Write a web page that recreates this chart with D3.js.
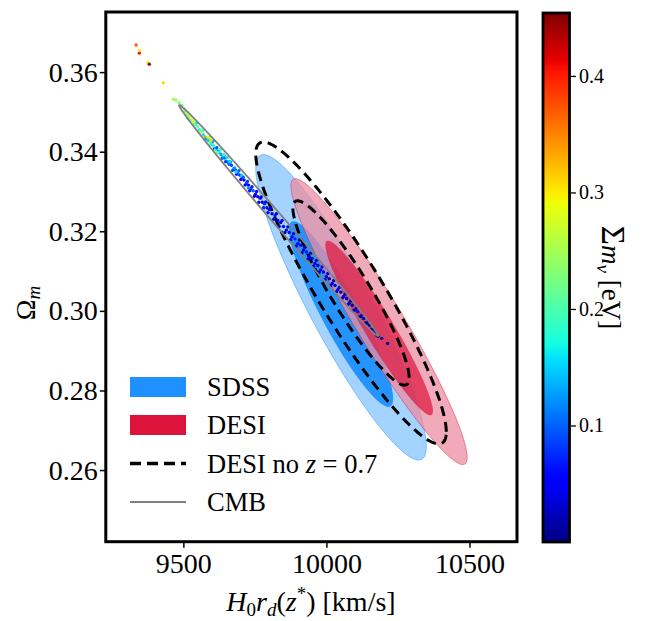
<!DOCTYPE html>
<html>
<head>
<meta charset="utf-8">
<script src="https://cdn.jsdelivr.net/npm/d3@7"></script>
<style>
body { margin: 0; background: #fff; }
svg text { font-family: "Liberation Serif", "Times New Roman", "DejaVu Serif", serif; fill: #000; }
</style>
</head>
<body>
<svg id="chart" width="647" height="621"></svg>
<script>
// Axis ranges and ticks
const xDomain = [9229, 10666];
const yDomain = [0.2420, 0.3751];
const xTicks = [9500, 10000, 10500];
const yTicks = [0.26, 0.28, 0.30, 0.32, 0.34, 0.36];
const cbDomain = [0.0, 0.454];
const cbTicks = [0.1, 0.2, 0.3, 0.4];

// Contours: [H0rd centre, Om centre, sigma H0rd, sigma Om, rho]
const sdss2 = [10051, 0.3009, 120, 0.01545, -0.91];
const sdss1 = [10051, 0.2992, 120, 0.01538, -0.91];
const desi2 = [10184, 0.2973, 124, 0.01446, -0.95];
const desi1 = [10184, 0.2957, 124, 0.01446, -0.95];
const desiNoZ07 = [10086, 0.3045, 134, 0.01527, -0.92];
const cmb = [9833, 0.3227, 140, 0.01168, -0.9975];
// delta chi^2 for 2 sigma, 1 sigma in 2D
const levels = [6.17, 2.30];

// MCMC samples: [H0rd, Om, sum m_nu]
const chain = [
  [9335, 0.3668, 0.37], [9346, 0.3648, 0.41], [9346, 0.3654, 0.30], [9376, 0.3624, 0.28],
  [9381, 0.3620, 0.44], [9430, 0.3573, 0.31], [9465, 0.3532, 0.25], [9474, 0.3530, 0.24],
  [9485, 0.3523, 0.23], [9494, 0.3517, 0.22],
  [9505, 0.3501, 0.22], [9512, 0.3494, 0.26], [9520, 0.3490, 0.20], [9528, 0.3480, 0.24],
  [9535, 0.3476, 0.28], [9542, 0.3468, 0.19], [9550, 0.3463, 0.21], [9556, 0.3455, 0.17],
  [9563, 0.3452, 0.23], [9570, 0.3443, 0.16], [9576, 0.3437, 0.34], [9582, 0.3435, 0.19],
  [9588, 0.3428, 0.15], [9594, 0.3424, 0.21], [9600, 0.3418, 0.14], [9606, 0.3415, 0.18],
  [9608, 0.3407, 0.07], [9614, 0.3408, 0.16], [9620, 0.3402, 0.13], [9626, 0.3399, 0.19],
  [9632, 0.3393, 0.12], [9638, 0.3387, 0.15], [9645, 0.3384, 0.10], [9650, 0.3377, 0.17],
  [9656, 0.3374, 0.11], [9662, 0.3368, 0.13], [9668, 0.3366, 0.09], [9675, 0.3357, 0.14],
  [9682, 0.3354, 0.08], [9690, 0.3346, 0.11], [9698, 0.3341, 0.07], [9705, 0.3334, 0.12],
  [9712, 0.3329, 0.06], [9720, 0.3320, 0.09], [9728, 0.3316, 0.05], [9736, 0.3307, 0.08],
  [9744, 0.3302, 0.10], [9752, 0.3293, 0.06], [9760, 0.3287, 0.04], [9768, 0.3283, 0.07],
  [9776, 0.3273, 0.05], [9784, 0.3269, 0.08], [9792, 0.3259, 0.04], [9800, 0.3255, 0.06],
  [9810, 0.3244, 0.03], [9820, 0.3239, 0.07], [9830, 0.3228, 0.05], [9840, 0.3222, 0.04],
  [9850, 0.3212, 0.06], [9860, 0.3203, 0.03], [9870, 0.3197, 0.05], [9880, 0.3186, 0.04],
  [9890, 0.3181, 0.07], [9900, 0.3169, 0.03], [9910, 0.3165, 0.05], [9920, 0.3153, 0.02],
  [9930, 0.3148, 0.06], [9940, 0.3136, 0.04], [9950, 0.3132, 0.03], [9960, 0.3119, 0.05],
  [9970, 0.3114, 0.02], [9980, 0.3103, 0.04], [9990, 0.3098, 0.06], [10000, 0.3086, 0.03],
  [10010, 0.3081, 0.02], [10020, 0.3069, 0.04], [10030, 0.3064, 0.03], [10040, 0.3053, 0.05],
  [10050, 0.3047, 0.02], [10060, 0.3036, 0.03], [10070, 0.3031, 0.04], [10080, 0.3019, 0.02],
  [10090, 0.3014, 0.03], [10100, 0.3003, 0.02], [10110, 0.2998, 0.04], [10120, 0.2986, 0.02],
  [10130, 0.2981, 0.03], [10140, 0.2969, 0.02], [10150, 0.2964, 0.01], [10160, 0.2952, 0.03],
  [10170, 0.2947, 0.02], [10180, 0.2936, 0.01], [10193, 0.2931, 0.02], [10214, 0.2918, 0.01],
  [9503, 0.3508, 0.25], [9516, 0.3484, 0.18], [9524, 0.3489, 0.29], [9538, 0.3469, 0.22],
  [9547, 0.3473, 0.16], [9559, 0.3449, 0.25], [9567, 0.3453, 0.20], [9579, 0.3432, 0.13],
  [9591, 0.3435, 0.24], [9597, 0.3419, 0.17], [9603, 0.3426, 0.12], [9611, 0.3404, 0.20],
  [9617, 0.3410, 0.09], [9623, 0.3398, 0.15], [9629, 0.3405, 0.18], [9635, 0.3383, 0.11],
  [9642, 0.3391, 0.14], [9648, 0.3375, 0.08], [9653, 0.3385, 0.16], [9659, 0.3369, 0.10],
  [9665, 0.3374, 0.13], [9672, 0.3353, 0.09], [9679, 0.3359, 0.12], [9686, 0.3343, 0.07],
  [9694, 0.3352, 0.10], [9701, 0.3330, 0.06], [9709, 0.3336, 0.09], [9716, 0.3316, 0.05],
  [9724, 0.3325, 0.08], [9732, 0.3302, 0.06], [9740, 0.3312, 0.07], [9748, 0.3288, 0.04],
  [9756, 0.3300, 0.06], [9764, 0.3273, 0.05], [9772, 0.3286, 0.03], [9780, 0.3259, 0.07],
  [9788, 0.3274, 0.04], [9796, 0.3247, 0.05], [9805, 0.3259, 0.03], [9815, 0.3230, 0.06],
  [9825, 0.3244, 0.04], [9835, 0.3212, 0.03], [9845, 0.3227, 0.05], [9855, 0.3197, 0.02],
  [9865, 0.3211, 0.04], [9875, 0.3179, 0.06], [9885, 0.3194, 0.03], [9895, 0.3163, 0.05],
  [9905, 0.3178, 0.02], [9915, 0.3146, 0.04], [9925, 0.3160, 0.03], [9935, 0.3130, 0.05],
  [9945, 0.3145, 0.02], [9955, 0.3112, 0.04], [9965, 0.3127, 0.03], [9975, 0.3097, 0.02],
  [9985, 0.3111, 0.05], [9995, 0.3079, 0.03], [10005, 0.3094, 0.02], [10015, 0.3063, 0.04],
  [10025, 0.3076, 0.03], [10035, 0.3048, 0.02], [10045, 0.3059, 0.04], [10055, 0.3032, 0.03],
  [10065, 0.3042, 0.02], [10075, 0.3016, 0.03], [10085, 0.3025, 0.01], [10095, 0.3001, 0.03],
  [10105, 0.3007, 0.02], [10115, 0.2985, 0.01], [10125, 0.2990, 0.03], [10135, 0.2969, 0.02],
  [10145, 0.2972, 0.01], [10155, 0.2954, 0.02], [10165, 0.2954, 0.01], [10175, 0.2939, 0.02],
  [9586, 0.3437, 0.27], [9597, 0.3428, 0.31], [9618, 0.3398, 0.22], [9640, 0.3393, 0.19],
  [9661, 0.3375, 0.15], [9684, 0.3349, 0.16], [9703, 0.3340, 0.14], [9727, 0.3309, 0.12]
];

const legendItems = ["SDSS", "DESI", "DESI no z=0.7", "CMB"];

const FONT = "'Liberation Serif', 'Times New Roman', 'DejaVu Serif', serif";
const svg = d3.select("#chart");
const plot = {left: 105.8, right: 517, top: 12, bottom: 541.7};

const x = d3.scaleLinear().domain(xDomain).range([plot.left, plot.right]);
const y = d3.scaleLinear().domain(yDomain).range([plot.bottom, plot.top]);

// jet colormap built from linear scales
const jetR = d3.scaleLinear().domain([0, 0.35, 0.66, 0.89, 1]).range([0, 0, 1, 1, 0.5]).clamp(true);
const jetG = d3.scaleLinear().domain([0, 0.125, 0.375, 0.64, 0.91, 1]).range([0, 0, 1, 1, 0, 0]).clamp(true);
const jetB = d3.scaleLinear().domain([0, 0.11, 0.34, 0.65, 1]).range([0.5, 1, 1, 0, 0]).clamp(true);
const cbNorm = d3.scaleLinear().domain(cbDomain).range([0, 1]).clamp(true);
function jet(t) {
    return d3.rgb(jetR(t) * 255, jetG(t) * 255, jetB(t) * 255).toString();
}

// ellipse outline for a given delta chi^2
function ellipse(p, k) {
    const [mx, my, sx, sy, r] = p;
    const s = Math.sqrt(k);
    return d3.range(0, 360, 1).map(a => {
        const t = a * Math.PI / 180;
        return [mx + s * sx * Math.cos(t),
                my + s * sy * (r * Math.cos(t) + Math.sqrt(1 - r * r) * Math.sin(t))];
    });
}
const line = d3.line().x(d => x(d[0])).y(d => y(d[1])).curve(d3.curveLinearClosed);

svg.append("defs").append("clipPath").attr("id", "clip")
    .append("rect")
    .attr("x", plot.left).attr("y", plot.top)
    .attr("width", plot.right - plot.left).attr("height", plot.bottom - plot.top);

const g = svg.append("g").attr("clip-path", "url(#clip)");

// SDSS
g.append("path").attr("d", line(ellipse(sdss2, levels[0])))
    .attr("fill", "#1e90ff").attr("fill-opacity", 0.4)
    .attr("stroke", "#1e90ff").attr("stroke-opacity", 0.5).attr("stroke-width", 1);
g.append("path").attr("d", line(ellipse(sdss1, levels[1])))
    .attr("fill", "#1e90ff").attr("fill-opacity", 0.95);

// DESI
g.append("path").attr("d", line(ellipse(desi2, levels[0])))
    .attr("fill", "#eb8ea2").attr("fill-opacity", 0.75)
    .attr("stroke", "#dc143c").attr("stroke-opacity", 0.45).attr("stroke-width", 1);
g.append("path").attr("d", line(ellipse(desi1, levels[1])))
    .attr("fill", "#dc143c").attr("fill-opacity", 0.7);

// DESI without z=0.7
levels.forEach(k => {
    g.append("path").attr("d", line(ellipse(desiNoZ07, k)))
        .attr("fill", "none").attr("stroke", "#000")
        .attr("stroke-width", 3).attr("stroke-dasharray", "10,6");
});

// samples coloured by sum m_nu
g.selectAll(".pt")
    .data(chain)
    .enter().append("circle")
    .attr("class", "pt")
    .attr("cx", d => x(d[0]))
    .attr("cy", d => y(d[1]))
    .attr("r", 1.7)
    .attr("fill", d => jet(cbNorm(d[2])));

// CMB (outer contour only is visible)
g.append("path").attr("d", line(ellipse(cmb, levels[0])))
    .attr("fill", "none").attr("stroke", "#808080").attr("stroke-width", 1.8);

// axes
const xAxis = svg.append("g")
    .attr("transform", `translate(0,${plot.bottom})`)
    .call(d3.axisBottom(x).tickValues(xTicks).tickFormat(d3.format("d")).tickSize(6).tickSizeOuter(0));
const yAxis = svg.append("g")
    .attr("transform", `translate(${plot.left},0)`)
    .call(d3.axisLeft(y).tickValues(yTicks).tickFormat(d3.format(".2f")).tickSize(6).tickSizeOuter(0));
[xAxis, yAxis].forEach(a => {
    a.attr("font-family", FONT);
    a.select(".domain").remove();
    a.selectAll(".tick line").attr("stroke-width", 1.5);
    a.selectAll(".tick text").attr("font-family", FONT).style("font-size", "28px");
});
xAxis.selectAll(".tick text").attr("y", 11).attr("dy", "0.71em");
yAxis.selectAll(".tick text").attr("x", -8);

svg.append("rect")
    .attr("x", plot.left).attr("y", plot.top)
    .attr("width", plot.right - plot.left).attr("height", plot.bottom - plot.top)
    .attr("fill", "none").attr("stroke", "#000").attr("stroke-width", 3);

// axis labels
const xl = svg.append("text")
    .attr("x", 311).attr("y", 611)
    .attr("font-family", FONT)
    .attr("text-anchor", "middle").style("font-size", "28px");
xl.append("tspan").attr("font-style", "italic").text("H");
xl.append("tspan").attr("dy", 5).style("font-size", "19px").text("0");
xl.append("tspan").attr("dy", -5).attr("font-style", "italic").text("r");
xl.append("tspan").attr("dy", 5).attr("font-style", "italic").style("font-size", "19px").text("d");
xl.append("tspan").attr("dy", -5).text("(");
xl.append("tspan").attr("font-style", "italic").text("z");
xl.append("tspan").attr("dy", -11).style("font-size", "19px").text("*");
xl.append("tspan").attr("dy", 11).text(") [km/s]");

const yl = svg.append("text")
    .attr("transform", "translate(35,303) rotate(-90)")
    .attr("font-family", FONT)
    .attr("text-anchor", "middle").style("font-size", "28px");
yl.append("tspan").text("Ω");
yl.append("tspan").attr("dy", 5).attr("font-style", "italic").style("font-size", "19px").text("m");

// legend
const leg = svg.append("g");
const rowY = [387, 425, 463.5, 502];
leg.append("rect").attr("x", 130).attr("y", rowY[0] - 10).attr("width", 56).attr("height", 20).attr("fill", "#1e90ff");
leg.append("rect").attr("x", 130).attr("y", rowY[1] - 10).attr("width", 56).attr("height", 20).attr("fill", "#dc143c");
leg.append("line").attr("x1", 130).attr("x2", 186).attr("y1", rowY[2]).attr("y2", rowY[2])
    .attr("stroke", "#000").attr("stroke-width", 3.5).attr("stroke-dasharray", "11,6");
leg.append("line").attr("x1", 130).attr("x2", 186).attr("y1", rowY[3]).attr("y2", rowY[3])
    .attr("stroke", "#808080").attr("stroke-width", 1.8);
legendItems.forEach((name, i) => {
    const t = leg.append("text").attr("x", 207).attr("y", rowY[i] + 9)
        .attr("font-family", FONT).style("font-size", "26.5px");
    if (name === "DESI no z=0.7") {
        t.append("tspan").text("DESI no ");
        t.append("tspan").attr("font-style", "italic").text("z");
        t.append("tspan").text(" = 0.7");
    } else {
        t.text(name);
    }
});

// colorbar
const cb = {left: 543, width: 26.5, top: 13, bottom: 542};
const cy = d3.scaleLinear().domain(cbDomain).range([cb.bottom, cb.top]);
const grad = svg.select("defs").append("linearGradient")
    .attr("id", "jetGrad").attr("x1", 0).attr("y1", 1).attr("x2", 0).attr("y2", 0);
grad.selectAll("stop")
    .data(d3.range(0, 1.0001, 0.01))
    .enter().append("stop")
    .attr("offset", d => d)
    .attr("stop-color", d => jet(d));
svg.append("rect")
    .attr("x", cb.left).attr("y", cb.top)
    .attr("width", cb.width).attr("height", cb.bottom - cb.top)
    .attr("fill", "url(#jetGrad)").attr("stroke", "#000").attr("stroke-width", 2.8);
const cbAxis = svg.append("g")
    .attr("transform", `translate(${cb.left + cb.width + 1.4},0)`)
    .call(d3.axisRight(cy).tickValues(cbTicks).tickFormat(d3.format(".1f")).tickSize(5).tickSizeOuter(0));
cbAxis.select(".domain").remove();
cbAxis.selectAll(".tick line").attr("stroke-width", 1.3);
cbAxis.selectAll(".tick text").attr("x", 8).attr("font-family", FONT).style("font-size", "20px");

const cl = svg.append("text")
    .attr("transform", `translate(602,${(cb.top + cb.bottom) / 2}) rotate(90)`)
    .attr("font-family", FONT)
    .attr("text-anchor", "middle").style("font-size", "27px");
cl.append("tspan").style("font-size", "33px").text("Σ");
cl.append("tspan").attr("font-style", "italic").text("m");
cl.append("tspan").attr("dy", 5).attr("font-style", "italic").style("font-size", "19px").text("ν");
cl.append("tspan").attr("dy", -5).text(" [eV]");
</script>
</body>
</html>
